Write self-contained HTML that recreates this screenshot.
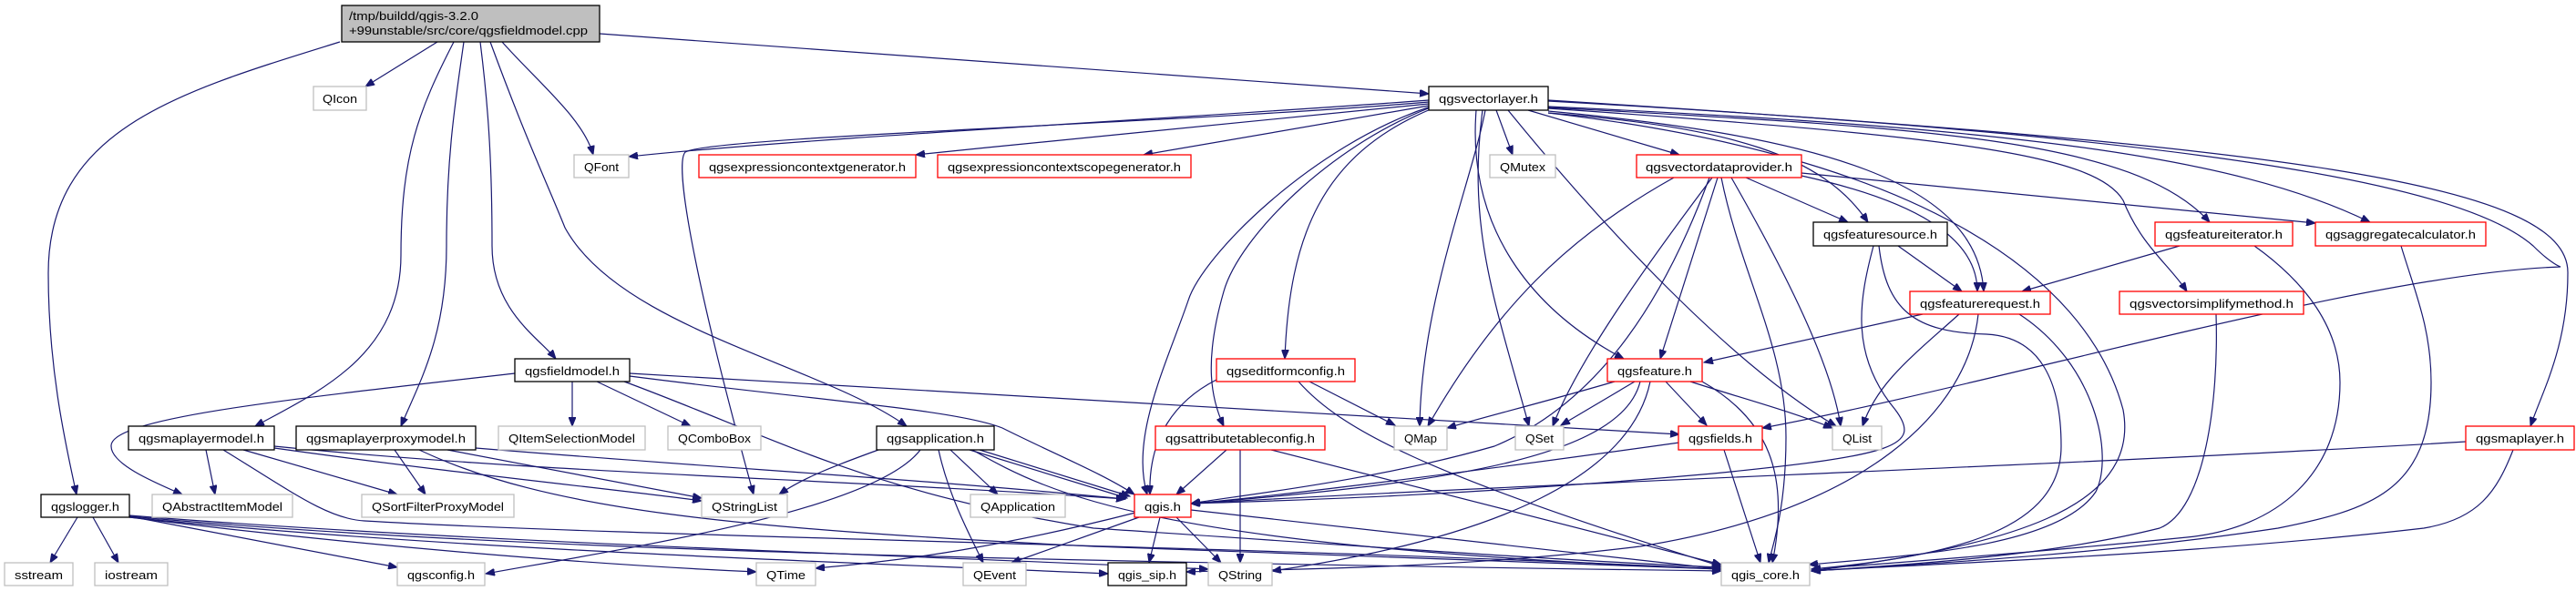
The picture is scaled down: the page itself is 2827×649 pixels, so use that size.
<!DOCTYPE html>
<html><head><meta charset="utf-8"><style>
html,body{margin:0;padding:0;background:#fff;}
svg{display:block;}
text{font-family:"Liberation Sans",sans-serif;font-size:13px;fill:#000;}
.e{fill:none;stroke:#191970;stroke-width:1.2;marker-end:url(#a);}
.g{fill:#fff;stroke:#bfbfbf;stroke-width:1.3;}
.b{fill:#fff;stroke:#000;stroke-width:1.3;}
.r{fill:#fff;stroke:#ff0000;stroke-width:1.3;}
</style></head><body>
<svg width="2827" height="649" viewBox="0 0 2827 649" xmlns="http://www.w3.org/2000/svg">
<defs><marker id="a" markerUnits="userSpaceOnUse" markerWidth="11" markerHeight="8" refX="10" refY="4" orient="auto"><path d="M0,0 L10,4 L0,8 z" fill="#191970" stroke="#191970"/></marker></defs>
<g>
<path class="e" d="M658,37 L1568,103"/>
<path class="e" d="M480,46 L401,95"/>
<path class="e" d="M551,46 C590,90 640,130 651,170"/>
<path class="e" d="M373,46 C200,100 53,140 53,300 C53,400 70,480 84,543"/>
<path class="e" d="M498,46 C460,120 440,170 440,280 C440,390 350,430 280,468"/>
<path class="e" d="M509,46 C500,110 490,170 490,270 C490,370 460,420 440,468"/>
<path class="e" d="M527,46 C535,110 540,170 540,270 C540,340 590,370 610,394"/>
<path class="e" d="M538,46 C580,160 600,200 620,250 C680,360 900,400 995,468"/>
<path class="e" d="M1568,110 C1300,130 900,150 690,172"/>
<path class="e" d="M1568,114 C1400,130 1200,150 1005,170"/>
<path class="e" d="M1568,116 L1255,170"/>
<path class="e" d="M1568,112 C1300,135 780,150 752,167 C740,180 760,300 827,543"/>
<path class="e" d="M1642,121 L1660,170"/>
<path class="e" d="M1677,121 L1843,170"/>
<path class="e" d="M1630,121 C1615,200 1560,330 1558,468"/>
<path class="e" d="M1627,121 C1610,250 1640,330 1678,468"/>
<path class="e" d="M1620,121 C1610,250 1680,340 1782,394"/>
<path class="e" d="M1570,117 C1440,160 1320,280 1304,330 C1280,400 1240,480 1259,543"/>
<path class="e" d="M1570,118 C1460,160 1360,260 1343,320 C1320,400 1330,440 1343,468"/>
<path class="e" d="M1570,120 C1450,170 1415,260 1410,394"/>
<path class="e" d="M1655,121 C1760,250 1900,400 2015,468"/>
<path class="e" d="M1699,124 C1900,140 2000,170 2050,244"/>
<path class="e" d="M1699,122 C2000,150 2170,200 2177,320"/>
<path class="e" d="M1699,124 C2100,170 2290,300 2330,450 C2350,560 2200,600 1988,627"/>
<path class="e" d="M1699,118 C2100,140 2340,150 2425,244"/>
<path class="e" d="M1699,119 C2150,150 2300,170 2330,220 C2350,270 2380,290 2400,320"/>
<path class="e" d="M1699,117 C2200,140 2450,170 2601,244"/>
<path class="e" d="M1699,110 C2500,160 2820,200 2818,300 C2818,380 2790,430 2777,468"/>
<path class="e" d="M1699,111 C2400,150 2700,200 2780,270 C2800,290 2810,293 2810,293 C2600,300 2200,420 1934,470"/>
<path class="e" d="M1916,195 L2028,244"/>
<path class="e" d="M1977,193 C2100,220 2170,260 2170,320"/>
<path class="e" d="M1977,190 L2541,245"/>
<path class="e" d="M1837,195 C1720,260 1640,340 1567,468"/>
<path class="e" d="M1879,195 C1800,300 1730,400 1704,468"/>
<path class="e" d="M1876,195 C1830,320 1760,440 1640,490 C1500,530 1350,545 1307,553"/>
<path class="e" d="M1885,195 L1822,394"/>
<path class="e" d="M1900,195 C1960,300 2010,400 2020,468"/>
<path class="e" d="M1889,195 C1910,300 1960,380 1960,480 C1960,560 1945,600 1941,618"/>
<path class="e" d="M2083,270 L2153,320"/>
<path class="e" d="M2056,270 C2040,330 2030,390 2080,450 C2110,490 2080,500 1880,520 C1600,545 1400,550 1307,553"/>
<path class="e" d="M2062,270 C2070,340 2100,365 2180,367 C2240,370 2262,420 2262,490 C2262,580 2150,610 1988,625"/>
<path class="e" d="M2110,345 L1870,398"/>
<path class="e" d="M2150,345 C2100,390 2060,420 2044,468"/>
<path class="e" d="M2171,345 C2160,450 2050,560 1800,600 C1600,625 1400,625 1302,628"/>
<path class="e" d="M2216,345 C2300,400 2320,500 2300,540 C2260,600 2100,610 1985,620"/>
<path class="e" d="M2392,270 L2219,320"/>
<path class="e" d="M2474,270 C2530,310 2568,360 2568,420 C2568,520 2500,580 2400,590 C2200,610 2050,620 1988,625"/>
<path class="e" d="M2635,270 C2650,320 2668,360 2668,420 C2668,540 2600,560 2500,580 C2300,610 2100,620 1988,627"/>
<path class="e" d="M2432,345 C2435,440 2420,560 2370,580 C2250,610 2100,620 1988,627"/>
<path class="e" d="M2706,485 C2300,510 1700,530 1307,553"/>
<path class="e" d="M2758,494 C2740,540 2720,570 2660,580 C2400,610 2100,620 1988,627"/>
<path class="e" d="M1843,486 C1600,520 1400,545 1307,553"/>
<path class="e" d="M1892,494 L1932,618"/>
<path class="e" d="M1772,419 C1700,440 1640,455 1588,470"/>
<path class="e" d="M1794,419 L1713,467"/>
<path class="e" d="M1855,419 C1920,440 1960,450 2011,470"/>
<path class="e" d="M1828,419 L1873,467"/>
<path class="e" d="M1800,419 C1780,500 1600,530 1307,553"/>
<path class="e" d="M1811,419 C1790,520 1650,590 1396,627"/>
<path class="e" d="M1868,419 C1940,460 1965,520 1945,618"/>
<path class="e" d="M1437,419 L1531,467"/>
<path class="e" d="M1335,417 C1290,440 1260,480 1262,543"/>
<path class="e" d="M1425,419 C1470,470 1560,520 1889,622"/>
<path class="e" d="M1346,494 L1291,543"/>
<path class="e" d="M1361,494 L1361,618"/>
<path class="e" d="M1395,494 L1889,620"/>
<path class="e" d="M1246,563 C1100,600 1000,615 895,624"/>
<path class="e" d="M1250,568 L1110,618"/>
<path class="e" d="M1273,568 L1261,618"/>
<path class="e" d="M1291,568 L1340,618"/>
<path class="e" d="M1307,560 L1889,625"/>
<path class="e" d="M964,494 C920,510 880,525 855,543"/>
<path class="e" d="M1010,494 C960,560 700,600 533,630"/>
<path class="e" d="M1043,494 L1095,543"/>
<path class="e" d="M1030,494 C1040,540 1060,580 1079,618"/>
<path class="e" d="M1064,494 L1237,547"/>
<path class="e" d="M1075,494 L1240,545"/>
<path class="e" d="M1067,494 C1150,540 1250,600 1889,625"/>
<path class="e" d="M565,410 C300,440 120,460 122,490 C122,510 170,530 200,543"/>
<path class="e" d="M628,419 L628,468"/>
<path class="e" d="M655,419 L758,468"/>
<path class="e" d="M691,410 C1200,440 1600,460 1843,477"/>
<path class="e" d="M691,413 C900,440 1050,450 1100,470 C1160,500 1210,520 1245,543"/>
<path class="e" d="M685,419 C850,480 950,540 1200,580 C1500,600 1700,615 1889,623"/>
<path class="e" d="M226,494 L236,543"/>
<path class="e" d="M267,494 L436,543"/>
<path class="e" d="M301,492 C500,520 700,540 770,550"/>
<path class="e" d="M301,490 C600,520 900,525 1235,548"/>
<path class="e" d="M245,494 C320,540 360,570 400,572 C700,590 1400,600 1889,625"/>
<path class="e" d="M433,494 L467,543"/>
<path class="e" d="M491,494 L770,547"/>
<path class="e" d="M522,492 C800,515 1000,525 1235,548"/>
<path class="e" d="M460,494 C600,560 800,580 1200,600 C1500,612 1700,620 1889,625"/>
<path class="e" d="M85,568 L55,618"/>
<path class="e" d="M102,568 L130,618"/>
<path class="e" d="M142,567 L436,623"/>
<path class="e" d="M142,568 C400,600 650,620 830,628"/>
<path class="e" d="M142,567 C500,600 1000,615 1889,627"/>
<path class="e" d="M142,568 C500,605 1000,620 1216,630"/>
<path class="e" d="M142,566 C500,595 1000,610 1326,625"/>
</g>
<g>
<rect x="375" y="6" width="283" height="40" fill="#bfbfbf" stroke="#000" stroke-width="1.3"/>
<text x="383" y="22" textLength="142" lengthAdjust="spacingAndGlyphs">/tmp/buildd/qgis-3.2.0</text>
<text x="383" y="38" textLength="262" lengthAdjust="spacingAndGlyphs">+99unstable/src/core/qgsfieldmodel.cpp</text>

<rect class="b" x="1568" y="95" width="131" height="26"/><text x="1633.5" y="113" text-anchor="middle" textLength="109" lengthAdjust="spacingAndGlyphs">qgsvectorlayer.h</text>
<rect class="g" x="344" y="95" width="58" height="26"/><text x="373" y="113" text-anchor="middle" textLength="38" lengthAdjust="spacingAndGlyphs">QIcon</text>
<rect class="g" x="630" y="170" width="60" height="25"/><text x="660" y="188" text-anchor="middle" textLength="38" lengthAdjust="spacingAndGlyphs">QFont</text>
<rect class="r" x="767" y="170" width="238" height="25"/><text x="886" y="188" text-anchor="middle" textLength="216" lengthAdjust="spacingAndGlyphs">qgsexpressioncontextgenerator.h</text>
<rect class="r" x="1029" y="170" width="278" height="25"/><text x="1168" y="188" text-anchor="middle" textLength="256" lengthAdjust="spacingAndGlyphs">qgsexpressioncontextscopegenerator.h</text>
<rect class="g" x="1635" y="170" width="72" height="25"/><text x="1671" y="188" text-anchor="middle" textLength="50" lengthAdjust="spacingAndGlyphs">QMutex</text>
<rect class="r" x="1796" y="170" width="181" height="25"/><text x="1886.5" y="188" text-anchor="middle" textLength="161" lengthAdjust="spacingAndGlyphs">qgsvectordataprovider.h</text>
<rect class="b" x="1990" y="244" width="147" height="26"/><text x="2063.5" y="262" text-anchor="middle" textLength="125" lengthAdjust="spacingAndGlyphs">qgsfeaturesource.h</text>
<rect class="r" x="2365" y="244" width="151" height="26"/><text x="2440.5" y="262" text-anchor="middle" textLength="129" lengthAdjust="spacingAndGlyphs">qgsfeatureiterator.h</text>
<rect class="r" x="2541" y="244" width="187" height="26"/><text x="2634.5" y="262" text-anchor="middle" textLength="165" lengthAdjust="spacingAndGlyphs">qgsaggregatecalculator.h</text>
<rect class="r" x="2096" y="320" width="154" height="25"/><text x="2173" y="338" text-anchor="middle" textLength="132" lengthAdjust="spacingAndGlyphs">qgsfeaturerequest.h</text>
<rect class="r" x="2326" y="320" width="202" height="25"/><text x="2427" y="338" text-anchor="middle" textLength="180" lengthAdjust="spacingAndGlyphs">qgsvectorsimplifymethod.h</text>
<rect class="b" x="565" y="394" width="126" height="25"/><text x="628" y="412" text-anchor="middle" textLength="104" lengthAdjust="spacingAndGlyphs">qgsfieldmodel.h</text>
<rect class="r" x="1335" y="394" width="152" height="25"/><text x="1411" y="412" text-anchor="middle" textLength="130" lengthAdjust="spacingAndGlyphs">qgseditformconfig.h</text>
<rect class="r" x="1764" y="394" width="104" height="25"/><text x="1816" y="412" text-anchor="middle" textLength="82" lengthAdjust="spacingAndGlyphs">qgsfeature.h</text>
<rect class="b" x="141" y="468" width="160" height="26"/><text x="221" y="486" text-anchor="middle" textLength="138" lengthAdjust="spacingAndGlyphs">qgsmaplayermodel.h</text>
<rect class="b" x="325" y="468" width="197" height="26"/><text x="423.5" y="486" text-anchor="middle" textLength="175" lengthAdjust="spacingAndGlyphs">qgsmaplayerproxymodel.h</text>
<rect class="g" x="547" y="468" width="161" height="26"/><text x="627.5" y="486" text-anchor="middle" textLength="139" lengthAdjust="spacingAndGlyphs">QItemSelectionModel</text>
<rect class="g" x="733" y="468" width="102" height="26"/><text x="784" y="486" text-anchor="middle" textLength="80" lengthAdjust="spacingAndGlyphs">QComboBox</text>
<rect class="b" x="962" y="468" width="129" height="26"/><text x="1026.5" y="486" text-anchor="middle" textLength="107" lengthAdjust="spacingAndGlyphs">qgsapplication.h</text>
<rect class="r" x="1268" y="468" width="186" height="26"/><text x="1361" y="486" text-anchor="middle" textLength="164" lengthAdjust="spacingAndGlyphs">qgsattributetableconfig.h</text>
<rect class="g" x="1530" y="468" width="58" height="26"/><text x="1559" y="486" text-anchor="middle" textLength="36" lengthAdjust="spacingAndGlyphs">QMap</text>
<rect class="g" x="1663" y="468" width="53" height="26"/><text x="1689.5" y="486" text-anchor="middle" textLength="31" lengthAdjust="spacingAndGlyphs">QSet</text>
<rect class="r" x="1842" y="468" width="92" height="26"/><text x="1888" y="486" text-anchor="middle" textLength="70" lengthAdjust="spacingAndGlyphs">qgsfields.h</text>
<rect class="g" x="2011" y="468" width="54" height="26"/><text x="2038" y="486" text-anchor="middle" textLength="32" lengthAdjust="spacingAndGlyphs">QList</text>
<rect class="r" x="2706" y="468" width="119" height="26"/><text x="2765.5" y="486" text-anchor="middle" textLength="97" lengthAdjust="spacingAndGlyphs">qgsmaplayer.h</text>
<rect class="b" x="45" y="543" width="97" height="25"/><text x="93.5" y="561" text-anchor="middle" textLength="75" lengthAdjust="spacingAndGlyphs">qgslogger.h</text>
<rect class="g" x="167" y="543" width="154" height="25"/><text x="244" y="561" text-anchor="middle" textLength="132" lengthAdjust="spacingAndGlyphs">QAbstractItemModel</text>
<rect class="g" x="397" y="543" width="167" height="25"/><text x="480.5" y="561" text-anchor="middle" textLength="145" lengthAdjust="spacingAndGlyphs">QSortFilterProxyModel</text>
<rect class="g" x="770" y="543" width="94" height="25"/><text x="817" y="561" text-anchor="middle" textLength="72" lengthAdjust="spacingAndGlyphs">QStringList</text>
<rect class="g" x="1065" y="543" width="104" height="25"/><text x="1117" y="561" text-anchor="middle" textLength="82" lengthAdjust="spacingAndGlyphs">QApplication</text>
<rect class="r" x="1245" y="543" width="62" height="25"/><text x="1276" y="561" text-anchor="middle" textLength="40" lengthAdjust="spacingAndGlyphs">qgis.h</text>
<rect class="g" x="5" y="618" width="75" height="25"/><text x="42.5" y="636" text-anchor="middle" textLength="53" lengthAdjust="spacingAndGlyphs">sstream</text>
<rect class="g" x="104" y="618" width="80" height="25"/><text x="144" y="636" text-anchor="middle" textLength="58" lengthAdjust="spacingAndGlyphs">iostream</text>
<rect class="g" x="436" y="618" width="96" height="25"/><text x="484" y="636" text-anchor="middle" textLength="74" lengthAdjust="spacingAndGlyphs">qgsconfig.h</text>
<rect class="g" x="830" y="618" width="65" height="25"/><text x="862.5" y="636" text-anchor="middle" textLength="43" lengthAdjust="spacingAndGlyphs">QTime</text>
<rect class="g" x="1057" y="618" width="69" height="25"/><text x="1091.5" y="636" text-anchor="middle" textLength="47" lengthAdjust="spacingAndGlyphs">QEvent</text>
<rect class="b" x="1216" y="618" width="86" height="25"/><text x="1259" y="636" text-anchor="middle" textLength="64" lengthAdjust="spacingAndGlyphs">qgis_sip.h</text>
<rect class="g" x="1326" y="618" width="70" height="25"/><text x="1361" y="636" text-anchor="middle" textLength="48" lengthAdjust="spacingAndGlyphs">QString</text>
<rect class="g" x="1889" y="618" width="97" height="25"/><text x="1937.5" y="636" text-anchor="middle" textLength="75" lengthAdjust="spacingAndGlyphs">qgis_core.h</text>
</g>
</svg>
</body></html>
